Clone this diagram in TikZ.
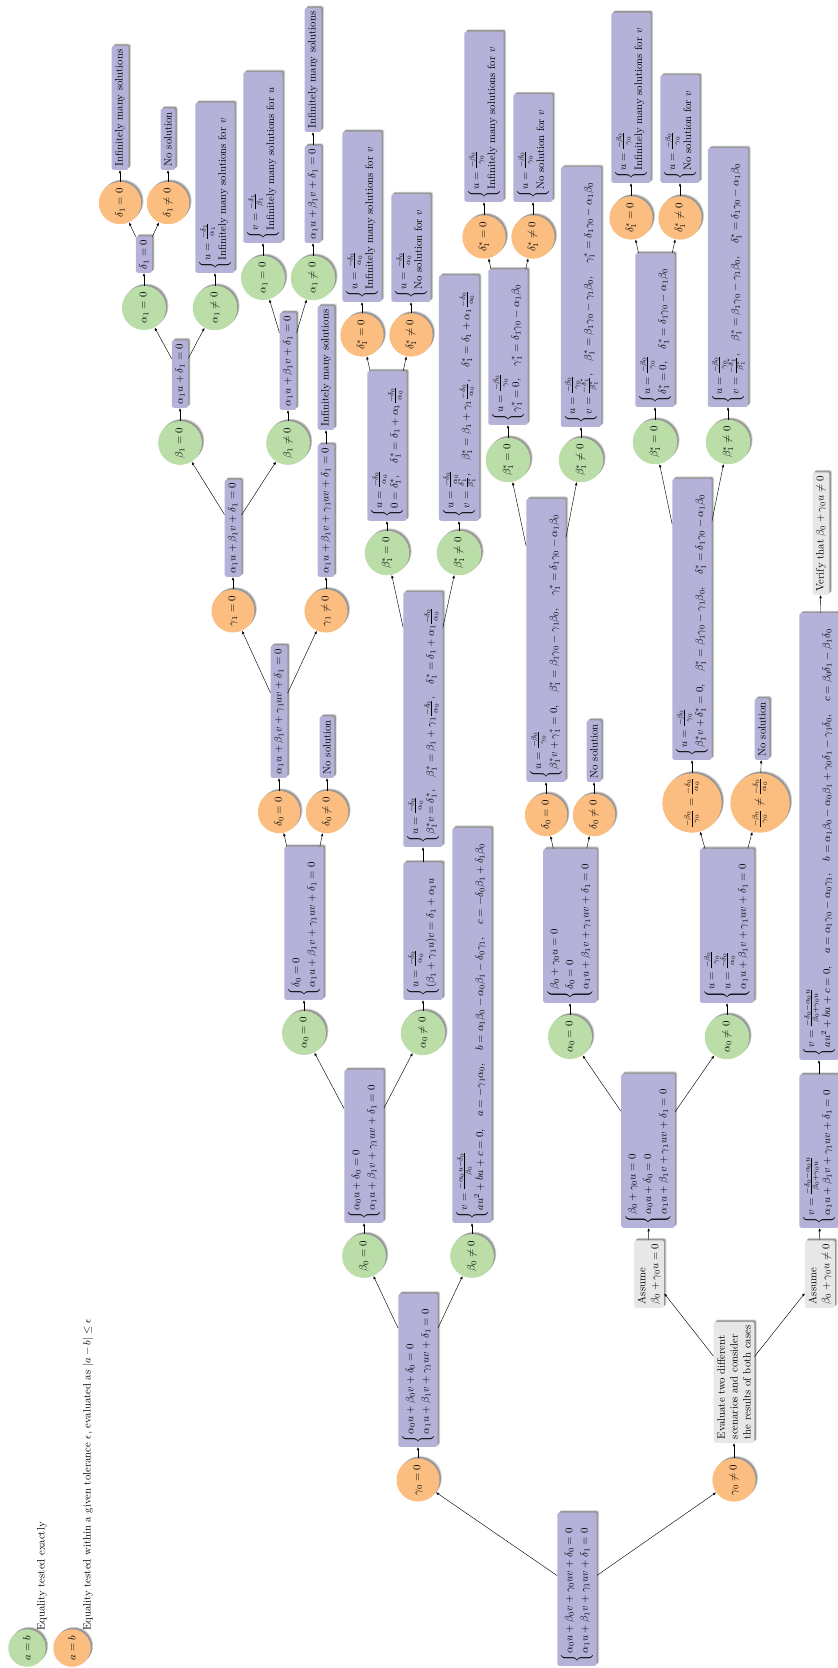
\documentclass[tikz,border=0pt]{standalone}
\usepackage{amsmath,amssymb}
\usetikzlibrary{arrows.meta}
\definecolor{boxc}{RGB}{180,178,216}
\definecolor{exactc}{RGB}{187,222,168}
\definecolor{tolc}{RGB}{251,190,128}
\definecolor{notec}{RGB}{231,231,231}
\tikzset{
  every node/.style={rotate=90},
  softshadow/.style={
    preaction={fill=black, opacity=0.18, transform canvas={xshift=2.2pt, yshift=2.2pt}},
    preaction={fill=black, opacity=0.28, transform canvas={xshift=1.4pt, yshift=1.4pt}}},
  eqbox/.style={fill=boxc, rounded corners=2pt, anchor=west, softshadow},
  notebox/.style={fill=notec, rounded corners=2pt, anchor=west, align=left, softshadow},
  exact/.style={circle, fill=exactc, inner sep=4.2pt, softshadow},
  tol/.style={circle, fill=tolc, inner sep=4.2pt, softshadow},
  legtext/.style={anchor=west, inner sep=0pt},
  conn/.style={-{Latex[length=3pt,width=2.4pt]}, line width=0.4pt, black}
}
\newcommand{\UD}{u=\frac{-\delta_0}{\alpha_0}}
\newcommand{\UB}{u=\frac{-\beta_0}{\gamma_0}}
\newcommand{\EqOne}{\alpha_1u+\beta_1v+\gamma_1uv+\delta_1=0}
\begin{document}
\begin{tikzpicture}[x=0.93pt, y=-0.93pt]
\useasboundingbox (0,0) rectangle (837,1668);

% legend
\node[exact] (lg1) at (27,1648) {$a=b$};
\node[legtext] (lt1) at (42,1631) {Equality tested exactly};
\node[tol] (lg2) at (72,1648) {$a=b$};
\node[legtext] (lt2) at (88,1631) {Equality tested within a given tolerance $\epsilon$, evaluated as $|a-b|\leq\epsilon$};

% root
\node[eqbox] (root) at (577,1666) {$\begin{cases}\alpha_0u+\beta_0v+\gamma_0uv+\delta_0=0\\ \EqOne\end{cases}$};

% ---------- gamma_0 = 0 ----------
\node[tol] (g0z) at (418,1480) {$\gamma_0=0$};
\node[eqbox] (bA) at (418,1447) {$\begin{cases}\alpha_0u+\beta_0v+\delta_0=0\\ \EqOne\end{cases}$};
\node[exact] (b0z) at (364,1256) {$\beta_0=0$};
\node[exact] (b0n) at (472,1256) {$\beta_0\neq0$};
\node[eqbox] (bB) at (364,1223) {$\begin{cases}\alpha_0u+\delta_0=0\\ \EqOne\end{cases}$};
\node[eqbox] (bC) at (472,1223) {$\begin{cases}v=\frac{-\alpha_0u-\delta_0}{\beta_0}\\ au^2+bu+c=0,\quad a=-\gamma_1\alpha_0,\quad b=\alpha_1\beta_0-\alpha_0\beta_1-\delta_0\gamma_1,\quad c=-\delta_0\beta_1+\delta_1\beta_0\end{cases}$};
\node[exact] (a0z) at (304,1033) {$\alpha_0=0$};
\node[exact] (a0n) at (423,1033) {$\alpha_0\neq0$};
\node[eqbox] (bD) at (304,1000) {$\begin{cases}\delta_0=0\\ \EqOne\end{cases}$};
\node[eqbox] (bE) at (423,1000) {$\begin{cases}\UD\\ (\beta_1+\gamma_1u)v=\delta_1+\alpha_1u\end{cases}$};
\node[tol] (d0z) at (279,812) {$\delta_0=0$};
\node[tol] (d0n) at (327,812) {$\delta_0\neq0$};
\node[eqbox] (bF) at (279,778) {$\EqOne$};
\node[eqbox] (bNo1) at (327,778) {No solution};
\node[eqbox] (bG) at (423,847) {$\begin{cases}\UD\\ \beta_1^*v=\delta_1^*,\quad \beta_1^*=\beta_1+\gamma_1\frac{-\delta_0}{\alpha_0},\quad \delta_1^*=\delta_1+\alpha_1\frac{-\delta_0}{\alpha_0}\end{cases}$};
\node[tol] (g1z) at (233,611) {$\gamma_1=0$};
\node[tol] (g1n) at (326,611) {$\gamma_1\neq0$};
\node[eqbox] (bH) at (233,577) {$\alpha_1u+\beta_1v+\delta_1=0$};
\node[eqbox] (bI) at (326,577) {$\EqOne$};
\node[eqbox] (bInf3) at (326,430) {Infinitely many solutions};
\node[exact] (b1z) at (180,443) {$\beta_1=0$};
\node[exact] (b1n) at (288,443) {$\beta_1\neq0$};
\node[eqbox] (bJ) at (180,408) {$\alpha_1u+\delta_1=0$};
\node[eqbox] (bK) at (288,410) {$\alpha_1u+\beta_1v+\delta_1=0$};
\node[exact] (a1z) at (144,308) {$\alpha_1=0$};
\node[exact] (a1n) at (215,308) {$\alpha_1\neq0$};
\node[exact] (a1z2) at (263,278) {$\alpha_1=0$};
\node[exact] (a1n2) at (313,278) {$\alpha_1\neq0$};
\node[eqbox] (bL) at (144,273) {$\delta_1=0$};
\node[eqbox] (bM) at (215,273) {$\begin{cases}u=\frac{-\delta_1}{\alpha_1}\\ \text{Infinitely many solutions for }v\end{cases}$};
\node[eqbox] (bN) at (263,243) {$\begin{cases}v=\frac{-\delta_1}{\beta_1}\\ \text{Infinitely many solutions for }u\end{cases}$};
\node[eqbox] (bO) at (313,243) {$\alpha_1u+\beta_1v+\delta_1=0$};
\node[eqbox] (bInf2) at (313,132) {Infinitely many solutions};
\node[tol] (d1z) at (120,203) {$\delta_1=0$};
\node[tol] (d1n) at (168,203) {$\delta_1\neq0$};
\node[eqbox] (bInf1) at (120,170) {Infinitely many solutions};
\node[eqbox] (bNo0) at (168,170) {No solution};
\node[exact] (bs1z) at (387,553) {$\beta_1^*=0$};
\node[exact] (bs1n) at (459,553) {$\beta_1^*\neq0$};
\node[eqbox] (bP) at (387,521) {$\begin{cases}\UD\\ 0=\delta_1^*,\quad \delta_1^*=\delta_1+\alpha_1\frac{-\delta_0}{\alpha_0}\end{cases}$};
\node[eqbox] (bQ) at (459,521) {$\begin{cases}\UD\\ v=\frac{\delta_1^*}{\beta_1^*},\quad \beta_1^*=\beta_1+\gamma_1\frac{-\delta_0}{\alpha_0},\quad \delta_1^*=\delta_1+\alpha_1\frac{-\delta_0}{\alpha_0}\end{cases}$};
\node[tol] (ds1z) at (362,335) {$\delta_1^*=0$};
\node[tol] (ds1n) at (411,335) {$\delta_1^*\neq0$};
\node[eqbox] (bR) at (362,302) {$\begin{cases}\UD\\ \text{Infinitely many solutions for }v\end{cases}$};
\node[eqbox] (bS) at (411,302) {$\begin{cases}\UD\\ \text{No solution for }v\end{cases}$};

% ---------- gamma_0 != 0 ----------
\node[tol] (g0n) at (734,1480) {$\gamma_0\neq0$};
\node[notebox] (bEval) at (734,1443) {Evaluate two different\\scenarios and consider\\the results of both cases};
\node[notebox] (bAs1) at (649,1308) {Assume\\$\beta_0+\gamma_0u=0$};
\node[notebox] (bAs2) at (820,1308) {Assume\\$\beta_0+\gamma_0u\neq0$};
\node[eqbox] (bT) at (648,1228) {$\begin{cases}\beta_0+\gamma_0u=0\\ \alpha_0u+\delta_0=0\\ \EqOne\end{cases}$};
\node[eqbox] (bU) at (819,1228) {$\begin{cases}v=\frac{-\delta_0-\alpha_0u}{\beta_0+\gamma_0u}\\ \EqOne\end{cases}$};
\node[eqbox] (bV) at (819,1060) {$\begin{cases}v=\frac{-\delta_0-\alpha_0u}{\beta_0+\gamma_0u}\\ au^2+bu+c=0,\quad a=\alpha_1\gamma_0-\alpha_0\gamma_1,\quad b=\alpha_1\beta_0-\alpha_0\beta_1+\gamma_0\delta_1-\gamma_1\delta_0,\quad c=\beta_0\delta_1-\beta_1\delta_0\end{cases}$};
\node[notebox] (bVerify) at (821,595) {Verify that $\beta_0+\gamma_0u\neq0$};
\node[exact] (a0z2) at (570,1037) {$\alpha_0=0$};
\node[exact] (a0n2) at (727,1037) {$\alpha_0\neq0$};
\node[eqbox] (bW) at (570,1003) {$\begin{cases}\beta_0+\gamma_0u=0\\ \delta_0=0\\ \EqOne\end{cases}$};
\node[eqbox] (bX) at (727,1003) {$\begin{cases}\UB\\ \UD\\ \EqOne\end{cases}$};
\node[tol] (d0z2) at (546,815) {$\delta_0=0$};
\node[tol] (d0n2) at (594,815) {$\delta_0\neq0$};
\node[eqbox] (bY) at (546,782) {$\begin{cases}\UB\\ \beta_1^*v+\gamma_1^*=0,\quad \beta_1^*=\beta_1\gamma_0-\gamma_1\beta_0,\quad \gamma_1^*=\delta_1\gamma_0-\alpha_1\beta_0\end{cases}$};
\node[eqbox] (bNo2) at (594,782) {No solution};
\node[tol, inner sep=2.5pt] (ceq) at (692,803) {$\frac{-\beta_0}{\gamma_0}=\frac{-\delta_0}{\alpha_0}$};
\node[tol, inner sep=2.5pt] (cne) at (760,803) {$\frac{-\beta_0}{\gamma_0}\neq\frac{-\delta_0}{\alpha_0}$};
\node[eqbox] (bZ) at (692,760) {$\begin{cases}\UB\\ \beta_1^*v+\delta_1^*=0,\quad \beta_1^*=\beta_1\gamma_0-\gamma_1\beta_0,\quad \delta_1^*=\delta_1\gamma_0-\alpha_1\beta_0\end{cases}$};
\node[eqbox] (bNo3) at (762,760) {No solution};
\node[exact] (bs2z) at (508,460) {$\beta_1^*=0$};
\node[exact] (bs2n) at (581,460) {$\beta_1^*\neq0$};
\node[eqbox] (bY1) at (508,425) {$\begin{cases}\UB\\ \gamma_1^*=0,\quad \gamma_1^*=\delta_1\gamma_0-\alpha_1\beta_0\end{cases}$};
\node[eqbox] (bY2) at (581,427) {$\begin{cases}\UB\\ v=\frac{-\delta_1^*}{\beta_1^*},\quad \beta_1^*=\beta_1\gamma_0-\gamma_1\beta_0,\quad \gamma_1^*=\delta_1\gamma_0-\alpha_1\beta_0\end{cases}$};
\node[tol] (ds2z) at (484,237) {$\delta_1^*=0$};
\node[tol] (ds2n) at (533,237) {$\delta_1^*\neq0$};
\node[eqbox] (bY1a) at (484,202) {$\begin{cases}\UB\\ \text{Infinitely many solutions for }v\end{cases}$};
\node[eqbox] (bY1b) at (533,202) {$\begin{cases}\UB\\ \text{No solution for }v\end{cases}$};
\node[exact] (bs3z) at (655,442) {$\beta_1^*=0$};
\node[exact] (bs3n) at (728,442) {$\beta_1^*\neq0$};
\node[eqbox] (bZ1) at (655,407) {$\begin{cases}\UB\\ \delta_1^*=0,\quad \delta_1^*=\delta_1\gamma_0-\alpha_1\beta_0\end{cases}$};
\node[eqbox] (bZ2) at (728,407) {$\begin{cases}\UB\\ v=\frac{-\delta_1^*}{\beta_1^*},\quad \beta_1^*=\beta_1\gamma_0-\gamma_1\beta_0,\quad \delta_1^*=\delta_1\gamma_0-\alpha_1\beta_0\end{cases}$};
\node[tol] (ds3z) at (631,218) {$\delta_1^*=0$};
\node[tol] (ds3n) at (680,218) {$\delta_1^*\neq0$};
\node[eqbox] (bZ1a) at (631,183) {$\begin{cases}\UB\\ \text{Infinitely many solutions for }v\end{cases}$};
\node[eqbox] (bZ1b) at (680,183) {$\begin{cases}\UB\\ \text{No solution for }v\end{cases}$};

% connectors, parent to child
\foreach \p/\c in {root/g0z, root/g0n, g0z/bA, bA/b0z, bA/b0n, b0z/bB, b0n/bC,
  bB/a0z, bB/a0n, a0z/bD, a0n/bE, bD/d0z, bD/d0n, d0z/bF, d0n/bNo1, bE/bG,
  bG/bs1z, bG/bs1n, bs1z/bP, bs1n/bQ, bP/ds1z, bP/ds1n, ds1z/bR, ds1n/bS,
  bF/g1z, bF/g1n, g1z/bH, g1n/bI, bI/bInf3, bH/b1z, bH/b1n, b1z/bJ, b1n/bK,
  bJ/a1z, bJ/a1n, a1z/bL, a1n/bM, bL/d1z, bL/d1n, d1z/bInf1, d1n/bNo0,
  bK/a1z2, bK/a1n2, a1z2/bN, a1n2/bO, bO/bInf2,
  g0n/bEval, bEval/bAs1, bEval/bAs2, bAs1/bT, bAs2/bU, bU/bV, bV/bVerify,
  bT/a0z2, bT/a0n2, a0z2/bW, a0n2/bX, bW/d0z2, bW/d0n2, d0z2/bY, d0n2/bNo2,
  bY/bs2z, bY/bs2n, bs2z/bY1, bs2n/bY2, bY1/ds2z, bY1/ds2n, ds2z/bY1a, ds2n/bY1b,
  bX/ceq, bX/cne, ceq/bZ, cne/bNo3, bZ/bs3z, bZ/bs3n, bs3z/bZ1, bs3n/bZ2,
  bZ1/ds3z, bZ1/ds3n, ds3z/bZ1a, ds3n/bZ1b}
  \draw[conn] (\p) -- (\c);
\end{tikzpicture}
\end{document}
